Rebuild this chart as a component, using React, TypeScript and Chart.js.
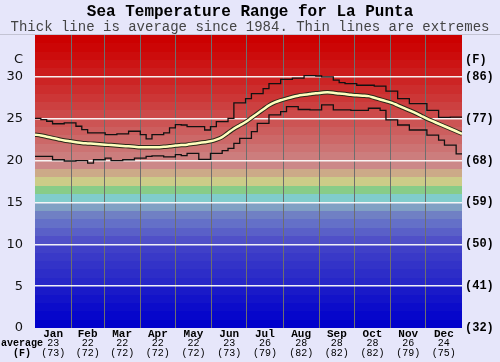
import React, { useEffect, useRef } from 'react';
import { Chart, registerables } from 'chart.js';

Chart.register(...registerables);

// Day of year for each sample
const DAYS = [
  0, 5, 10, 15, 20, 25, 30, 35, 40, 45, 50, 55, 60, 65, 70, 75, 80, 85, 90, 95,
  100, 105, 110, 115, 120, 125, 130, 135, 140, 145, 150, 155, 160, 165, 170, 175, 180, 185, 190, 195,
  200, 205, 210, 215, 220, 225, 230, 235, 240, 245, 250, 255, 260, 265, 270, 275, 280, 285, 290, 295,
  300, 305, 310, 315, 320, 325, 330, 335, 340, 345, 350, 355, 360, 365,
];

// Average sea temperature (C)
const AVG = [
  23.1, 23.0, 22.85, 22.7, 22.55, 22.4, 22.3, 22.2, 22.1, 22.05, 22.0, 21.95, 21.9, 21.85, 21.8, 21.75, 21.7, 21.65, 21.6, 21.6,
  21.6, 21.6, 21.65, 21.7, 21.8, 21.85, 21.9, 22.0, 22.1, 22.2, 22.3, 22.5, 22.8, 23.3, 23.8, 24.2, 24.6, 25.1, 25.6, 26.1,
  26.6, 26.95, 27.2, 27.4, 27.6, 27.75, 27.85, 27.95, 28.05, 28.1, 28.15, 28.1, 28.0, 27.95, 27.85, 27.8, 27.75, 27.7, 27.5, 27.3,
  27.1, 26.9, 26.6, 26.3, 26.0, 25.7, 25.35, 25.0, 24.7, 24.4, 24.1, 23.8, 23.5, 23.2,
];

// Highest recorded (C)
const MAX = [
  25.05, 24.9, 24.7, 24.4, 24.4, 24.5, 24.5, 24.1, 23.7, 23.3, 23.3, 23.3, 23.1, 23.1, 23.2, 23.2, 23.5, 23.5, 23.1, 22.6,
  23.1, 23.1, 23.3, 23.9, 24.3, 24.25, 24.05, 24.05, 24.05, 23.65, 24.05, 24.65, 24.65, 25.05, 26.9, 26.9, 27.4, 28.0, 28.0, 28.6,
  29.2, 29.2, 29.7, 29.7, 29.85, 29.85, 30.15, 30.15, 30.1, 30.0, 30.0, 29.6, 29.3, 29.2, 29.2, 29.0, 29.0, 29.0, 28.9, 28.9,
  28.3, 28.3, 27.4, 27.4, 26.8, 26.8, 26.8, 26.0, 26.0, 25.15, 25.15, 25.2, 25.2, 25.2,
];

// Lowest recorded (C)
const MIN = [
  20.5, 20.5, 20.5, 20.1, 20.1, 19.95, 19.95, 20.0, 20.0, 19.7, 20.1, 20.1, 20.3, 20.0, 20.0, 20.1, 20.1, 20.3, 20.3, 20.5,
  20.55, 20.55, 20.45, 20.45, 20.7, 20.6, 20.85, 20.85, 20.15, 20.15, 20.85, 20.85, 21.2, 21.45, 22.05, 22.65, 22.65, 23.45, 24.45, 24.45,
  25.45, 25.45, 25.85, 26.45, 26.45, 26.1, 26.1, 26.05, 26.05, 26.65, 26.65, 26.05, 26.05, 26.05, 26.0, 26.0, 26.0, 26.25, 26.25, 26.0,
  24.85, 24.85, 24.25, 24.25, 23.65, 23.65, 23.65, 23.05, 23.05, 22.45, 21.85, 21.85, 20.8, 20.8,
];

const MONTHS = ['Jan', 'Feb', 'Mar', 'Apr', 'May', 'Jun', 'Jul', 'Aug', 'Sep', 'Oct', 'Nov', 'Dec'];
const MONTH_START = [0, 31, 59, 90, 120, 151, 181, 212, 243, 273, 304, 334, 365];
const MONTH_AVG_C = ['23', '22', '22', '22', '22', '23', '26', '28', '28', '28', '26', '24'];
const MONTH_AVG_F = ['(73)', '(72)', '(72)', '(72)', '(72)', '(73)', '(79)', '(82)', '(82)', '(82)', '(79)', '(75)'];

const Y_TICKS = [0, 5, 10, 15, 20, 25, 30, 32];
const Y_LEFT_LABELS = ['0', '5', '10', '15', '20', '25', '30', 'C'];
const Y_RIGHT_LABELS = ['(32)', '(41)', '(50)', '(59)', '(68)', '(77)', '(86)', '(F)'];

const TITLE = 'Sea Temperature Range for La Punta';
const SUBTITLE = 'Thick line is average since 1984. Thin lines are extremes';

const BLUE_BANDS = [
  '#0000cc', '#0606cb', '#0c0cca', '#1313c9', '#1a1ac8', '#2727c8', '#2d2dc8', '#3333c8', '#3939c8', '#4040c8',
  '#5050c8', '#5a60c8', '#6470c8', '#7080c4', '#80a0c4', '#80cccc', '#88cc88', '#cccc88', '#ccaa88', '#cc8888',
];

function bandColor(t: number): string {
  if (t < BLUE_BANDS.length) return BLUE_BANDS[t];
  const g = Math.round(136 * Math.pow(Math.max(0, 34 - t) / 15, 1.2));
  return `rgb(204,${g},${g})`;
}

const midTicks = MONTHS.map((_, i) => (MONTH_START[i] + MONTH_START[i + 1]) / 2);

const bandsPlugin = {
  id: 'bands',
  beforeDraw(chart: any) {
    const { ctx, chartArea: a, scales } = chart;
    const y = scales.y;
    ctx.save();
    ctx.fillStyle = '#e6e6fa';
    ctx.fillRect(0, 0, chart.width, chart.height);
    ctx.strokeStyle = '#c4c4d4';
    ctx.lineWidth = 1;
    ctx.beginPath();
    ctx.moveTo(0, Math.round(a.top) - 0.5);
    ctx.lineTo(chart.width, Math.round(a.top) - 0.5);
    ctx.stroke();
    for (let t = 0; t < 35; t++) {
      const top = Math.round(y.getPixelForValue(t + 1));
      const bot = Math.round(y.getPixelForValue(t));
      ctx.fillStyle = bandColor(t);
      ctx.fillRect(a.left, top, a.right - a.left, bot - top);
    }
    ctx.restore();
  },
  afterDraw(chart: any) {
    const { ctx } = chart;
    ctx.save();
    ctx.fillStyle = '#000';
    ctx.font = 'bold 10px "Liberation Mono"';
    ctx.textAlign = 'center';
    ctx.textBaseline = 'middle';
    ctx.fillText('average', 22, 343.5);
    ctx.fillText('(F)', 22, 353);
    ctx.restore();
  },
};

export default function App() {
  const ref = useRef<HTMLCanvasElement | null>(null);

  useEffect(() => {
    document.body.style.margin = '0';
    const canvas = ref.current;
    if (!canvas) return;
    const pts = (vals: number[]) => DAYS.map((d, i) => ({ x: d, y: vals[i] }));
    const chart = new Chart(canvas, {
      type: 'line',
      data: {
        datasets: [
          {
            label: 'avg-core',
            data: pts(AVG),
            borderColor: '#ffffbe',
            borderWidth: 2.5,
            pointRadius: 0,
            tension: 0.3,
            order: 0,
          },
          {
            label: 'avg-outline',
            data: pts(AVG),
            borderColor: '#2a2a1a',
            borderWidth: 4.5,
            pointRadius: 0,
            tension: 0.3,
            order: 1,
          },
          {
            label: 'max',
            data: pts(MAX),
            borderColor: '#111',
            borderWidth: 1.3,
            pointRadius: 0,
            stepped: true,
            order: 2,
          },
          {
            label: 'min',
            data: pts(MIN),
            borderColor: '#111',
            borderWidth: 1.3,
            pointRadius: 0,
            stepped: true,
            order: 2,
          },
        ],
      },
      options: {
        responsive: false,
        animation: false,
        devicePixelRatio: 1,
        layout: { padding: 0 },
        plugins: {
          legend: { display: false },
          tooltip: { enabled: false },
          title: {
            display: true,
            text: TITLE,
            color: '#000',
            font: { family: '"Liberation Mono"', size: 16, weight: 'bold', lineHeight: 1 },
            padding: { top: 4, bottom: 0 },
          },
          subtitle: {
            display: true,
            text: SUBTITLE,
            color: '#444',
            font: { family: '"Liberation Mono"', size: 14, weight: 'normal', lineHeight: 1 },
            padding: { top: 0.5, bottom: 0.5 },
          },
        },
        scales: {
          x: {
            type: 'linear',
            position: 'bottom',
            weight: 0,
            min: 0,
            max: 365,
            afterBuildTicks: (s: any) => {
              const vals = [...MONTH_START, ...midTicks].sort((a, b) => a - b);
              s.ticks = vals.map((v) => ({ value: v }));
            },
            afterFit: (s: any) => {
              s.height = 11;
            },
            ticks: {
              autoSkip: false,
              maxRotation: 0,
              padding: 0,
              color: '#000',
              font: { family: '"Liberation Mono"', size: 11, weight: 'bold', lineHeight: 1.2 },
              callback: (v: any) => {
                const i = midTicks.indexOf(Number(v));
                return i >= 0 ? MONTHS[i] : '';
              },
            },
            grid: {
              drawTicks: false,
              lineWidth: 1,
              color: (ctx: any) => {
                const v = ctx.tick ? ctx.tick.value : -1;
                return MONTH_START.indexOf(v) > 0 && v < 365 ? '#6e6e6e' : 'rgba(0,0,0,0)';
              },
            },
            border: { display: false },
          },
          x2: {
            type: 'linear',
            position: 'bottom',
            weight: 1,
            min: 0,
            max: 365,
            afterBuildTicks: (s: any) => {
              s.ticks = midTicks.map((v) => ({ value: v }));
            },
            afterFit: (s: any) => {
              s.height = 23;
            },
            ticks: {
              autoSkip: false,
              maxRotation: 0,
              padding: 0,
              color: '#000',
              font: { family: '"Liberation Mono"', size: 10, weight: 'normal', lineHeight: 0.95 },
              callback: (v: any) => {
                const i = midTicks.indexOf(Number(v));
                return i >= 0 ? [MONTH_AVG_C[i], MONTH_AVG_F[i]] : '';
              },
            },
            grid: { display: false, drawTicks: false },
            border: { display: false },
          },
          y: {
            type: 'linear',
            position: 'left',
            min: 0,
            max: 35,
            afterBuildTicks: (s: any) => {
              s.ticks = Y_TICKS.map((v) => ({ value: v }));
            },
            afterFit: (s: any) => {
              s.width = 35;
            },
            ticks: {
              padding: 12,
              color: '#111',
              font: { family: '"DejaVu Sans"', size: 13 },
              callback: (v: any) => {
                const i = Y_TICKS.indexOf(Number(v));
                return i >= 0 ? Y_LEFT_LABELS[i] : '';
              },
            },
            grid: {
              drawTicks: false,
              lineWidth: 1.5,
              color: (ctx: any) => {
                const v = ctx.tick ? ctx.tick.value : -1;
                return v > 0 && v <= 30 ? 'rgba(250,250,250,0.95)' : 'rgba(0,0,0,0)';
              },
            },
            border: { display: false },
          },
          y2: {
            type: 'linear',
            position: 'right',
            min: 0,
            max: 35,
            afterBuildTicks: (s: any) => {
              s.ticks = Y_TICKS.map((v) => ({ value: v }));
            },
            afterFit: (s: any) => {
              s.width = 38;
            },
            ticks: {
              padding: 3,
              color: '#000',
              font: { family: '"Liberation Mono"', size: 12, weight: 'bold' },
              callback: (v: any) => {
                const i = Y_TICKS.indexOf(Number(v));
                return i >= 0 ? Y_RIGHT_LABELS[i] : '';
              },
            },
            grid: { display: false, drawTicks: false },
            border: { display: false },
          },
        },
      } as any,
      plugins: [bandsPlugin],
    });
    return () => chart.destroy();
  }, []);

  return (
    <div style={{ width: 500, height: 362 }}>
      <canvas ref={ref} width={500} height={362} style={{ display: 'block', width: 500, height: 362 }} />
    </div>
  );
}
